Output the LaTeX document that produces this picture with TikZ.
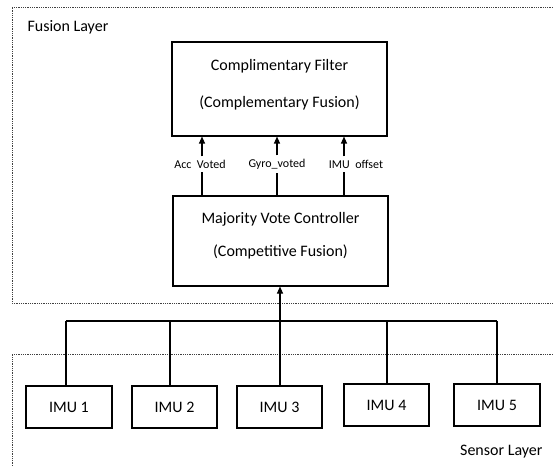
\documentclass[tikz,border=0pt]{standalone}
\usepackage{fontspec}
\setmainfont{Carlito}
\usetikzlibrary{arrows.meta}
\begin{document}
\begin{tikzpicture}[x=1pt,y=-1pt,
  layer/.style={densely dotted,line width=0.8pt,black!75},
  box/.style={draw,line width=1.1pt,inner sep=0pt},
  wire/.style={line width=1.1pt},
  arr/.style={wire,-{Triangle[length=7pt,width=6pt]}},
  big/.style={font=\fontsize{16}{19}\selectfont},
  small/.style={font=\fontsize{12}{14}\selectfont}]
\useasboundingbox (0,0) rectangle (553,465);
% layers
\draw[layer] (553,7) -- (12,7) -- (12,303) -- (553,303);
\draw[layer] (553,354.5) -- (12,354.5) -- (12,470);
\node[big,anchor=west] (fl) at (24,27) {Fusion Layer};
\node[big,anchor=east] (sl) at (546,452) {Sensor Layer};
% boxes
\node[box,minimum width=215pt,minimum height=94pt] (cf) at (279.5,89) {};
\node[big] (cft1) at (279.5,66) {Complimentary Filter};
\node[big] (cft2) at (279.5,103) {(Complementary Fusion)};
\node[box,minimum width=215pt,minimum height=90pt] (mv) at (280.5,241) {};
\node[big] (mvt1) at (280.5,219) {Majority Vote Controller};
\node[big] (mvt2) at (280.5,252) {(Competitive Fusion)};
% labels
\node[small] (la) at (200,164) {Acc\ \ Voted};
\node[small] (lg) at (277,164) {Gyro\_voted};
\node[small] (li) at (356,164) {IMU\ \ offset};
% label connectors
\coordinate (xa) at (202,0);
\coordinate (xg) at (277,0);
\coordinate (xi) at (344,0);
\draw[wire] (mv.north -| xa) -- (la.south -| xa);
\draw[arr] (la.north -| xa) -- (cf.south -| xa);
\draw[wire] (mv.north -| xg) -- (lg.south -| xg);
\draw[arr] (lg.north -| xg) -- (cf.south -| xg);
\draw[wire] (mv.north -| xi) -- (li.south -| xi);
\draw[arr] (li.north -| xi) -- (cf.south -| xi);
% IMUs
\node[box,minimum width=86pt,minimum height=42pt,big] (i1) at (69,407) {IMU 1};
\node[box,minimum width=85pt,minimum height=42pt,big] (i2) at (174.5,407) {IMU 2};
\node[box,minimum width=85pt,minimum height=42pt,big] (i3) at (279.5,407) {IMU 3};
\node[box,minimum width=85pt,minimum height=42pt,big] (i4) at (386.5,405) {IMU 4};
\node[box,minimum width=86pt,minimum height=42pt,big] (i5) at (497,405) {IMU 5};
% bus
\coordinate (bus) at (280,321);
\coordinate (b1) at (66,321);
\coordinate (b2) at (170,321);
\coordinate (b4) at (387,321);
\coordinate (b5) at (497,321);
\draw[arr] (bus) -- (mv.south -| bus);
\draw[wire] (b1) -- (b5);
\draw[wire] (b1) -- (i1.north -| b1);
\draw[wire] (b2) -- (i2.north -| b2);
\draw[wire] (bus) -- (i3.north -| bus);
\draw[wire] (b4) -- (i4.north -| b4);
\draw[wire] (b5) -- (i5.north -| b5);
\end{tikzpicture}
\end{document}
